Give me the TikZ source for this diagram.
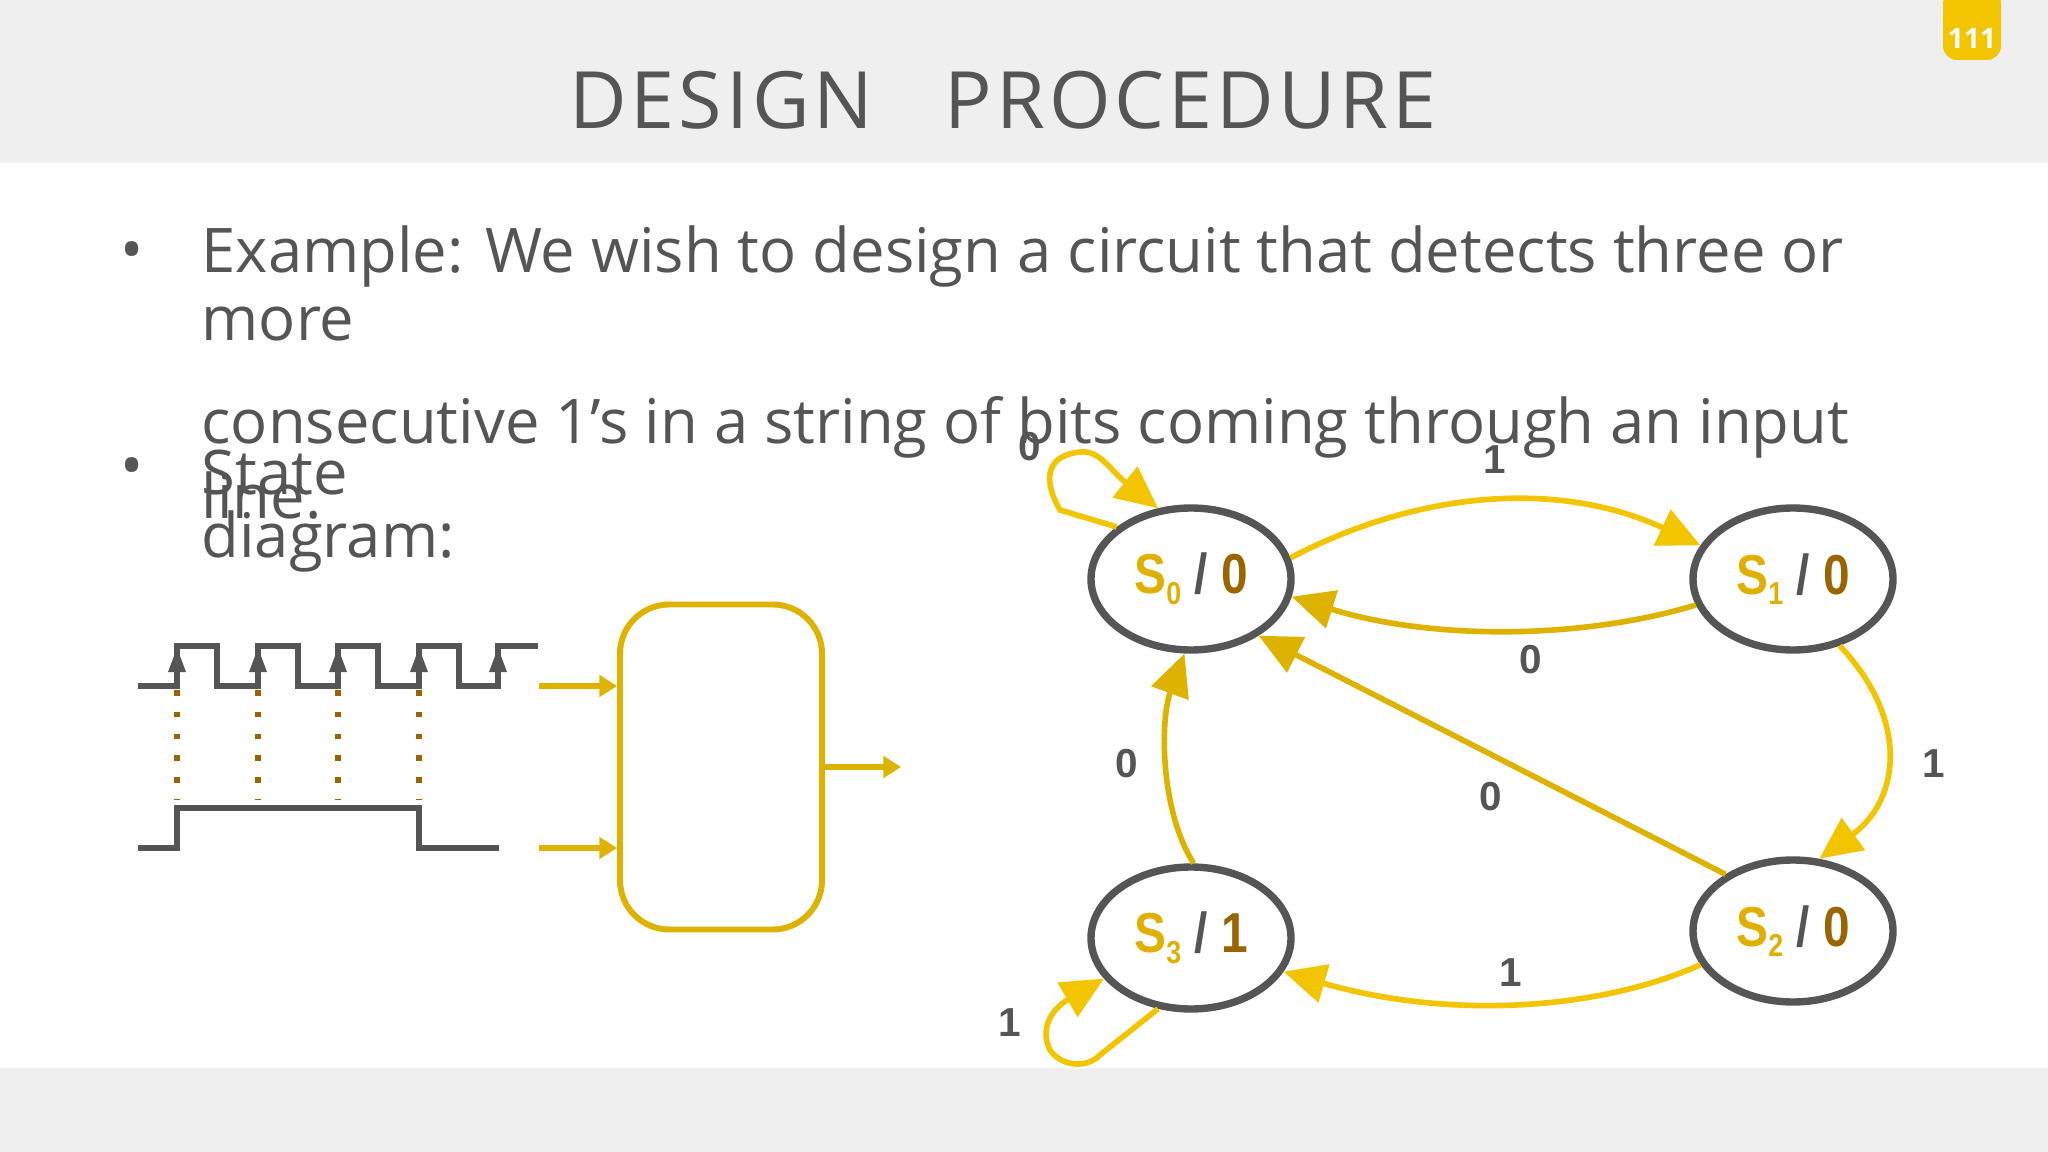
\documentclass[tikz,border=0pt]{standalone}
\usepackage{fontspec}
\setmainfont{Open Sans}
\newfontfamily\arialb{Liberation Sans}[BoldFont={Liberation Sans Bold}]
\usetikzlibrary{arrows.meta}
\definecolor{txtgray}{HTML}{555555}
\definecolor{bandgray}{HTML}{EFEFEF}
\definecolor{yel}{HTML}{F2C500}
\definecolor{dyel}{HTML}{DDB300}
\definecolor{brn}{HTML}{9A6400}
\definecolor{sylw}{HTML}{E0B000}
\tikzset{
  state/.style={draw=txtgray,line width=2.1pt,ellipse,minimum width=200\pxu,minimum height=142\pxu,inner sep=0pt},
  tr/.style={yel,line width=1.6pt,-{Triangle[length=12pt,width=11pt]}},
  trd/.style={dyel,line width=1.6pt,-{Triangle[length=12pt,width=11pt]}},
  elab/.style={text=txtgray,font=\arialb\bfseries\fontsize{11.5}{12}\selectfont},
  wave/.style={txtgray,line width=1.7pt},
  inarr/.style={dyel,line width=1.7pt,-{Triangle[length=5pt,width=6pt]}},
  body/.style={text=txtgray,anchor=west,font=\fontsize{17.5}{20}\selectfont,inner sep=0pt},
}
\newlength\pxu \setlength\pxu{0.01cm}
\usetikzlibrary{shapes.geometric}
\newcommand\stlab[2]{\arialb\bfseries\fontsize{16}{18}\selectfont\scalebox{0.85}[1]{\textcolor{sylw}{S{\fontsize{9}{9}\selectfont\raisebox{-3pt}{#1}}} \textcolor{txtgray}{/} \textcolor{brn}{#2}}}
\begin{document}
\begin{tikzpicture}[x=0.01cm,y=-0.01cm]
\fill[bandgray] (0,0) rectangle (2048,1152);
\fill[white] (0,163) rectangle (2048,1068);
\useasboundingbox (0,0) rectangle (2048,1152);
% title
\node[text=txtgray,font=\fontsize{22.5}{26}\selectfont\addfontfeature{LetterSpace=5}] (title) at (1003,100) {DESIGN\hspace{0.9em}PROCEDURE};
\fill[yel,rounded corners=4pt] (1943,-10) rectangle (2001,60);
\node[text=white,font=\fontsize{8}{9}\selectfont\bfseries] (pg) at (1972,38) {111};
% bullets
\node[text=txtgray,font=\fontsize{17.5}{20}\selectfont] (b1) at (132,257) {•};
\node[text=txtgray,font=\fontsize{17.5}{20}\selectfont] (b2) at (132,473) {•};
\node[body] (t1) at (201,257) {Example: We wish to design a circuit that detects three or};
\node[body] (t2) at (201,324) {more};
\node[body] (t3) at (201,427) {consecutive 1’s in a string of bits coming through an input};
\node[body] (t4) at (201,496) {line.};
\node[body] (t5) at (201,473) {State};
\node[body] (t6) at (201,542) {diagram:};
% waveform
\draw[wave] (138,686) -- (177,686) -- (177,646) -- (217,646) -- (217,686) -- (258,686) -- (258,646) -- (298,646) -- (298,686) -- (338,686) -- (338,646) -- (378,646) -- (378,686) -- (419,686) -- (419,646) -- (459,646) -- (459,686) -- (498,686) -- (498,646) -- (538,646);
\foreach \x in {177,258,338,419,498}{
  \fill[txtgray] (\x,648) -- (\x-9,672) -- (\x+9,672) -- cycle;}
\foreach \x in {177,258,338,419}{
  \draw[brn,line width=1.5pt,dash pattern=on 1.6pt off 4.6pt] (\x,690) -- (\x,800);}
\draw[wave] (138,848) -- (177,848) -- (177,808) -- (419,808) -- (419,848) -- (499,848);
% box
\node[draw=dyel,line width=1.7pt,rounded corners=14pt,minimum width=202\pxu,minimum height=325\pxu] (box) at (721,767) {};
\coordinate (a1) at (539,686);
\coordinate (a2) at (539,848);
\coordinate (o) at (901,767);
\draw[inarr] (a1) -- (box.west |- a1);
\draw[inarr] (a2) -- (box.west |- a2);
\draw[inarr] (box.east |- o) -- (o);
% states
\node[state] (s0) at (1191,579) {\stlab{0}{0}};
\node[state] (s1) at (1793,579) {\stlab{1}{0}};
\node[state] (s2) at (1793,931) {\stlab{2}{0}};
\node[state] (s3) at (1191,938) {\stlab{3}{1}};
% transitions
\draw[tr] (s0.12) .. controls (1420,490) and (1560,480) .. (s1.160);
\node[elab] (l01) at (1495,460) {1};
\draw[trd] (s1.195) .. controls (1580,640) and (1430,640) .. (s0.350);
\node[elab] (l10) at (1531,660) {0};
\draw[trd] (s2.140) -- (s0.320);
\node[elab] (l20) at (1491,797) {0};
\draw[tr] (s1.305) .. controls (1910,720) and (1900,800) .. (s2.70);
\node[elab] (l12) at (1934,764) {1};
\draw[tr] (s2.200) .. controls (1600,1010) and (1450,1020) .. (s3.340);
\node[elab] (l23) at (1511,973) {1};
\draw[trd] (s3.88) .. controls (1160,810) and (1160,720) .. (s0.265);
\node[elab] (l30) at (1127,764) {0};
\draw[tr] (s0.145) -- (1060,510) .. controls (1040,475) and (1050,455) .. (1080,452) .. controls (1100,450) and (1110,470) .. (s0.115);
\node[elab] (l00) at (1030,447) {0};
\draw[tr] (s3.245) -- (1100,1055) .. controls (1085,1070) and (1060,1065) .. (1050,1050) .. controls (1040,1030) and (1050,1010) .. (s3.205);
\node[elab] (l33) at (1010,1023) {1};
\end{tikzpicture}
\end{document}
